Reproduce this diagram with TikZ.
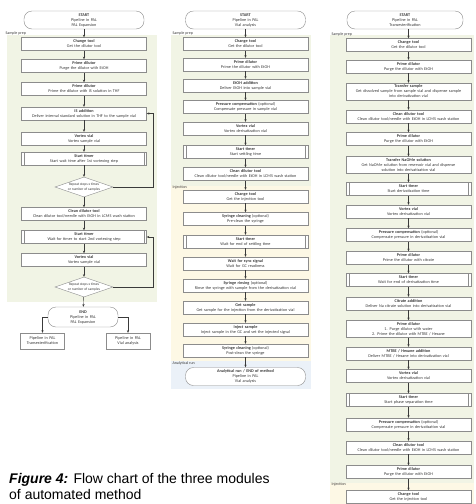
\documentclass[tikz,border=0pt]{standalone}
\usepackage{fontspec}
\setmainfont{Carlito}
\newfontfamily\capfont{Liberation Sans}
\usetikzlibrary{shapes.geometric,arrows.meta}

\definecolor{prepgreen}{HTML}{F1F4E5}
\definecolor{injyellow}{HTML}{FDF8E5}
\definecolor{runblue}{HTML}{EBF1F8}
\definecolor{linegray}{HTML}{8C8C8C}
\definecolor{txtgray}{HTML}{3A3A3A}

% double side bars of the timer boxes
\newcommand{\timerbars}[1]{%
  \draw[draw=linegray,line width=0.4pt] ([xshift=3pt]#1.north west) -- ([xshift=3pt]#1.south west)
        ([xshift=-3pt]#1.north east) -- ([xshift=-3pt]#1.south east);}

\begin{document}
\begin{tikzpicture}[x=1pt,y=-1pt,>={Stealth[length=2.6pt,width=2.2pt]}]
\tikzstyle{every node} = [font=\fontsize{4.2}{5}\selectfont, text=txtgray]
\tikzstyle{box} = [draw=linegray, fill=white, line width=0.4pt, text width=119pt, inner xsep=3pt, inner ysep=2pt, minimum height=13pt, align=center]
\tikzstyle{term} = [box, rounded corners=8pt, text width=114pt, minimum height=18pt]
\tikzstyle{decide} = [diamond, draw=linegray, fill=white, line width=0.4pt, aspect=2.9, inner sep=0pt, minimum width=58pt, minimum height=20pt, align=center, font=\fontsize{3.6}{4.3}\selectfont]
\tikzstyle{small} = [box, text width=38pt, minimum height=16pt]
\tikzstyle{phase} = [anchor=west, font=\fontsize{4}{5}\selectfont]
\tikzstyle{flow} = [draw=txtgray, line width=0.4pt, ->]

\fill[white] (0,0) rectangle (476,504);
\useasboundingbox (0,0) rectangle (476,504);

% phase backgrounds
\fill[prepgreen] (7,35) rectangle (157,302);
\fill[prepgreen] (171,35) rectangle (311,186);
\fill[injyellow] (171,186) rectangle (311,361);
\fill[runblue] (171,361) rectangle (311,389);
\fill[prepgreen] (330,35) rectangle (474,483);
\fill[injyellow] (330,483) rectangle (474,504);

\path (2,33) node[phase] (ph1) {Sample prep}
      (169,33) node[phase] (ph2) {Sample prep}
      (169,187) node[phase] (ph3) {Injection}
      (169,363) node[phase] (ph4) {Analytical run}
      (328,34) node[phase] (ph5) {Sample prep}
      (328,484.5) node[phase] (ph6) {Injection};

% module 1: internal standard
\path (84,20) node[term] (s1) {\textbf{START}\\Pipeline in PAL\\PAL Expansion}
      (84,44) node[box] (a1) {\textbf{Change tool}\\Get the dilutor tool}
      (84,66) node[box] (a2) {\textbf{Prime dilutor}\\Purge the dilutor with EtOH}
      (84,89) node[box] (a3) {\textbf{Prime dilutor}\\Prime the dilutor with IS solution in THF}
      (84,113.5) node[box] (a4) {\textbf{IS addition}\\Deliver internal standard solution in THF to the sample vial}
      (84,138.5) node[box] (a5) {\textbf{Vortex vial}\\Vortex sample vial}
      (84,158.5) node[box] (a6) {\textbf{Start timer}\\Start wait time after 1st vortexing step}
      (84,187) node[decide] (a7) {Repeat steps x times\\or number of samples}
      (84,214) node[box] (a8) {\textbf{Clean dilutor tool}\\Clean dilutor tool/needle with EtOH in LCMS wash station}
      (84,237) node[box] (a9) {\textbf{Start timer}\\Wait for timer to start 2nd vortexing step}
      (84,260) node[box] (a10) {\textbf{Vortex vial}\\Vortex sample vial}
      (84,287) node[decide] (a11) {Repeat steps x times\\or number of samples}
      (83,317) node[term, text width=64pt, minimum height=20pt] (e1) {\textbf{END}\\Pipeline in PAL\\PAL Expansion}
      (42.5,341) node[small] (e2) {Pipeline in PAL\\Transesterification}
      (128,341) node[small] (e3) {Pipeline in PAL\\Vial analysis};
\coordinate (lp) at (153,0);

% module 2: GC injection
\path (245.5,20) node[term] (s2) {\textbf{START}\\Pipeline in PAL\\Vial analysis}
      (245.5,44) node[box] (b1) {\textbf{Change tool}\\Get the dilutor tool}
      (245.5,64.5) node[box] (b2) {\textbf{Prime dilutor}\\Prime the dilutor with EtOH}
      (245.5,85.5) node[box] (b3) {\textbf{EtOH addition}\\Deliver EtOH into sample vial}
      (245.5,107) node[box] (b4) {\textbf{Pressure compensation} (optional)\\Compensate pressure in sample vial}
      (245.5,128.5) node[box] (b5) {\textbf{Vortex vial}\\Vortex derivatization vial}
      (245.5,152) node[box] (b6) {\textbf{Start timer}\\Start settling time}
      (245.5,174) node[box] (b7) {\textbf{Clean dilutor tool}\\Clean dilutor tool/needle with EtOH in LCMS wash station}
      (245.5,196.5) node[box] (b8) {\textbf{Change tool}\\Get the injection tool}
      (245.5,219) node[box] (b9) {\textbf{Syringe cleaning} (optional)\\Pre-clean the syringe}
      (245.5,241.5) node[box] (b10) {\textbf{Start timer}\\Wait for end of settling time}
      (245.5,263.5) node[box] (b11) {\textbf{Wait for sync signal}\\Wait for GC readiness}
      (245.5,285.5) node[box] (b12) {\textbf{Syringe rinsing} (optional)\\Rinse the syringe with sample from the derivatization vial}
      (245.5,307.5) node[box] (b13) {\textbf{Get sample}\\Get sample for the injection from the derivatization vial}
      (245.5,329.5) node[box] (b14) {\textbf{Inject sample}\\Inject sample in the GC and set the injected signal}
      (245.5,350.5) node[box] (b15) {\textbf{Syringe cleaning} (optional)\\Post-clean the syringe}
      (245.5,376.5) node[term] (e4) {\textbf{Analytical run / END of method}\\Pipeline in PAL\\Vial analysis};

% module 3: transesterification
\path (405,20) node[term, text width=110pt] (s3) {\textbf{START}\\Pipeline in PAL\\Transesterification}
      (408.5,45) node[box] (c1) {\textbf{Change tool}\\Get the dilutor tool}
      (408.5,66.5) node[box] (c2) {\textbf{Prime dilutor}\\Purge the dilutor with EtOH}
      (408.5,91.5) node[box] (c3) {\textbf{Transfer sample}\\Get dissolved sample from sample vial and dispense sample\\into derivatization vial}
      (408.5,116.5) node[box] (c4) {\textbf{Clean dilutor tool}\\Clean dilutor tool/needle with EtOH in LCMS wash station}
      (408.5,139) node[box] (c5) {\textbf{Prime dilutor}\\Purge the dilutor with EtOH}
      (408.5,165) node[box] (c6) {\textbf{Transfer NaOMe solution}\\Get NaOMe solution from reservoir vial and dispense\\solution into derivatization vial}
      (408.5,189) node[box] (c7) {\textbf{Start timer}\\Start derivatization time}
      (408.5,211.5) node[box] (c8) {\textbf{Vortex vial}\\Vortex derivatization vial}
      (408.5,235) node[box] (c9) {\textbf{Pressure compensation} (optional)\\Compensate pressure in derivatization vial}
      (408.5,258) node[box] (c10) {\textbf{Prime dilutor}\\Prime the dilutor with citrate}
      (408.5,280) node[box] (c11) {\textbf{Start timer}\\Wait for end of derivatization time}
      (408.5,303.5) node[box] (c12) {\textbf{Citrate addition}\\Deliver Na citrate solution into derivatization vial}
      (408.5,329) node[box] (c13) {\textbf{Prime dilutor}\\1. Purge dilutor with water\\2. Prime the dilutor with MTBE / Hexane}
      (408.5,353.5) node[box] (c14) {\textbf{MTBE / Hexane addition}\\Deliver MTBE / Hexane into derivatization vial}
      (408.5,376) node[box] (c15) {\textbf{Vortex vial}\\Vortex derivatization vial}
      (408.5,400) node[box] (c16) {\textbf{Start timer}\\Start phase separation time}
      (408.5,424.5) node[box] (c17) {\textbf{Pressure compensation} (optional)\\Compensate pressure in derivatization vial}
      (408.5,447.5) node[box] (c18) {\textbf{Clean dilutor tool}\\Clean dilutor tool/needle with EtOH in LCMS wash station}
      (408.5,472) node[box] (c19) {\textbf{Prime dilutor}\\Purge the dilutor with EtOH}
      (408.5,497) node[box] (c20) {\textbf{Change tool}\\Get the injection tool};

\timerbars{a6} \timerbars{a9}
\timerbars{b6} \timerbars{b10}
\timerbars{c7} \timerbars{c11} \timerbars{c16}

% connectors, module 1
\draw[flow] (s1) -- (a1);
\draw[flow] (a1) -- (a2);
\draw[flow] (a2) -- (a3);
\draw[flow] (a3) -- (a4);
\draw[flow] (a4) -- (a5);
\draw[flow] (a5) -- (a6);
\draw[flow] (a6) -- (a7);
\draw[flow] (a7) -- (a8);
\draw[flow] (a8) -- (a9);
\draw[flow] (a9) -- (a10);
\draw[flow] (a10) -- (a11);
\draw[flow] (a11) -- (e1);
\draw[flow] (a7.east) -- (a7.east -| lp) |- (a4.east);
\draw[flow] (a11.east) -- (a11.east -| lp) |- (a9.east);
\draw[flow] (e1.west) -| (e2.north);
\draw[flow] (e1.east) -| (e3.north);

% connectors, module 2
\draw[flow] (s2) -- (b1);
\draw[flow] (b1) -- (b2);
\draw[flow] (b2) -- (b3);
\draw[flow] (b3) -- (b4);
\draw[flow] (b4) -- (b5);
\draw[flow] (b5) -- (b6);
\draw[flow] (b6) -- (b7);
\draw[flow] (b7) -- (b8);
\draw[flow] (b8) -- (b9);
\draw[flow] (b9) -- (b10);
\draw[flow] (b10) -- (b11);
\draw[flow] (b11) -- (b12);
\draw[flow] (b12) -- (b13);
\draw[flow] (b13) -- (b14);
\draw[flow] (b14) -- (b15);
\draw[flow] (b15) -- (e4);

% connectors, module 3
\draw[flow] (s3.south -| c1) -- (c1);
\draw[flow] (c1) -- (c2);
\draw[flow] (c2) -- (c3);
\draw[flow] (c3) -- (c4);
\draw[flow] (c4) -- (c5);
\draw[flow] (c5) -- (c6);
\draw[flow] (c6) -- (c7);
\draw[flow] (c7) -- (c8);
\draw[flow] (c8) -- (c9);
\draw[flow] (c9) -- (c10);
\draw[flow] (c10) -- (c11);
\draw[flow] (c11) -- (c12);
\draw[flow] (c12) -- (c13);
\draw[flow] (c13) -- (c14);
\draw[flow] (c14) -- (c15);
\draw[flow] (c15) -- (c16);
\draw[flow] (c16) -- (c17);
\draw[flow] (c17) -- (c18);
\draw[flow] (c18) -- (c19);
\draw[flow] (c19) -- (c20);

\node[anchor=north west, text=black, align=left, inner sep=0pt, font=\capfont\fontsize{14}{16}\selectfont] (cap) at (9,473)
  {\textbf{\itshape Figure 4:} Flow chart of the three modules\\of automated method};
\end{tikzpicture}
\end{document}
